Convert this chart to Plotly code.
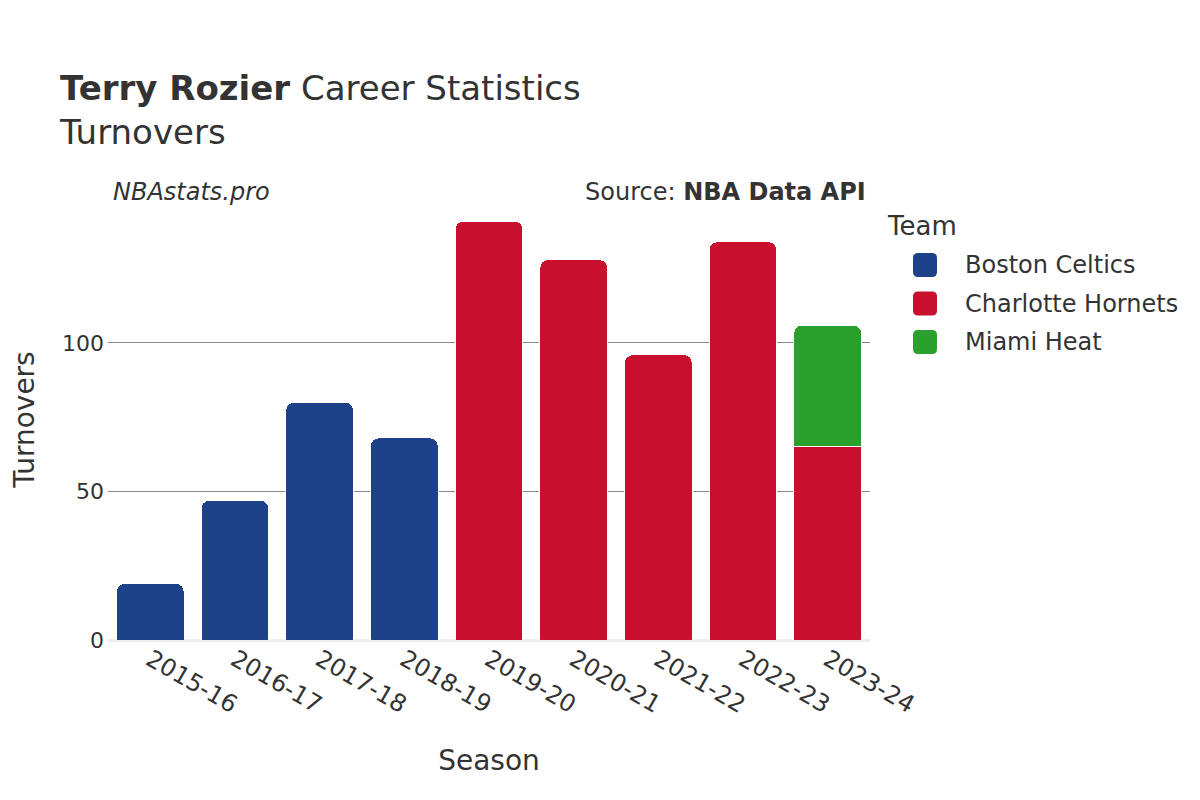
import plotly.graph_objects as go

seasons = ["2015-16", "2016-17", "2017-18", "2018-19", "2019-20", "2020-21", "2021-22", "2022-23", "2023-24"]
teams = ["Boston Celtics", "Charlotte Hornets", "Miami Heat"]
boston = [19, 47, 80, 68, None, None, None, None, None]
charlotte = [None, None, None, None, 141, 128, 96, 134, 65]
miami = [None, None, None, None, None, None, None, None, 41]
team_colors = ["#1d428a", "#c8102e", "#2ca02c"]

FONT = "DejaVu Sans"
TXT = "#333333"

# page offset (html body margin) and plot-area geometry in pixels
OFF = 8
L, R, T, B = 100, 338, 191, 168
PW, PH = 1200 - L - R, 800 - T - B


def px_x(px):
    return (px - OFF - L) / PW


def px_y(py):
    return (800 - B - (py - OFF)) / PH


fig = go.Figure()
for name, vals, col in zip(teams, [boston, charlotte, miami], team_colors):
    fig.add_trace(go.Bar(
        x=seasons, y=vals, name=name, showlegend=False,
        marker=dict(color=col, line=dict(color="white", width=1)),
    ))

shapes = []
annotations = [
    dict(text="Team", x=px_x(885), y=px_y(226), xref="paper", yref="paper",
         xanchor="left", yanchor="middle", showarrow=False, font=dict(size=26, color=TXT)),
]
rr = "M -7,-12 L 7,-12 Q 12,-12 12,-7 L 12,7 Q 12,12 7,12 L -7,12 Q -12,12 -12,7 L -12,-7 Q -12,-12 -7,-12 Z"
for i, (name, col) in enumerate(zip(teams, team_colors)):
    yc = 265 + i * 38.5
    shapes.append(dict(type="path", xref="paper", yref="paper",
                       xsizemode="pixel", ysizemode="pixel",
                       xanchor=px_x(925), yanchor=px_y(yc), path=rr,
                       fillcolor=col, line=dict(width=0)))
    annotations.append(dict(text=name, x=px_x(963), y=px_y(yc), xref="paper", yref="paper",
                            xanchor="left", yanchor="middle", showarrow=False,
                            font=dict(size=24, color=TXT)))

annotations += [
    dict(text="<i>NBAstats.pro</i>", x=px_x(111), y=px_y(192), xref="paper", yref="paper",
         xanchor="left", yanchor="middle", showarrow=False, font=dict(size=24, color=TXT)),
    dict(text="Source: <b>NBA Data API</b>", x=px_x(868), y=px_y(192), xref="paper", yref="paper",
         xanchor="right", yanchor="middle", showarrow=False, font=dict(size=24, color=TXT)),
]

fig.update_layout(
    barmode="stack",
    barcornerradius=8,
    bargap=0.2,
    width=1200, height=800,
    paper_bgcolor="white", plot_bgcolor="white",
    font=dict(family=FONT, color=TXT, size=22),
    margin=dict(l=L, r=R, t=T, b=B),
    showlegend=False,
    title=dict(
        text="<b>Terry Rozier</b> Career Statistics<br>Turnovers",
        x=52 / 1200, xanchor="left", xref="container",
        y=0.885, yanchor="top", yref="container",
        font=dict(size=34, family=FONT, color=TXT),
    ),
    xaxis=dict(
        title=dict(text="Season", font=dict(size=28), standoff=32),
        tickangle=30,
        tickfont=dict(size=24),
        showgrid=False,
        showline=False,
        automargin=False,
    ),
    yaxis=dict(
        title=dict(text="Turnovers", font=dict(size=28), standoff=38),
        tickfont=dict(size=22),
        ticklabelstandoff=3,
        showgrid=True, gridcolor="#888888", gridwidth=1,
        zeroline=True, zerolinecolor="#eeeeee", zerolinewidth=3,
        tickvals=[0, 50, 100],
        automargin=False,
    ),
    shapes=shapes,
    annotations=annotations,
)

fig.write_html("out.html")
